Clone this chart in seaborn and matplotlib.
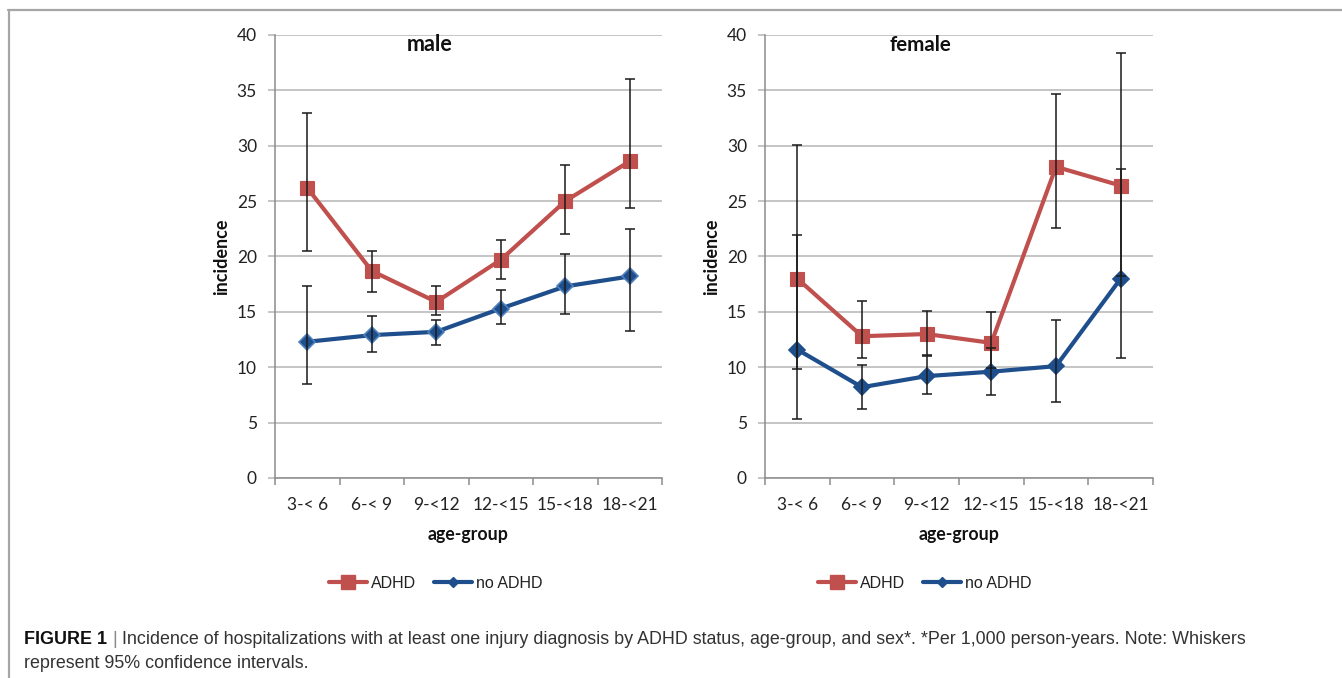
import matplotlib
matplotlib.use("Agg")
import matplotlib.pyplot as plt
from matplotlib.lines import Line2D
import seaborn as sns
import pandas as pd
import numpy as np

# ---------------- data ----------------
age_groups = ["3-< 6", "6-< 9", "9-<12", "12-<15", "15-<18", "18-<21"]
y_ticks = [0, 5, 10, 15, 20, 25, 30, 35, 40]

male_adhd = [26.2, 18.7, 15.9, 19.7, 25.0, 28.6]
male_adhd_lo = [20.5, 16.8, 14.7, 18.0, 22.0, 24.4]
male_adhd_hi = [33.0, 20.5, 17.3, 21.5, 28.3, 36.0]
male_no = [12.3, 12.9, 13.2, 15.3, 17.3, 18.2]
male_no_lo = [8.5, 11.4, 12.0, 13.9, 14.8, 13.3]
male_no_hi = [17.3, 14.6, 14.3, 17.0, 20.2, 22.5]

female_adhd = [18.0, 12.8, 13.0, 12.2, 28.1, 26.4]
female_adhd_lo = [9.8, 10.8, 11.1, 9.9, 22.6, 18.2]
female_adhd_hi = [30.1, 16.0, 15.1, 15.0, 34.7, 38.4]
female_no = [11.6, 8.2, 9.2, 9.6, 10.1, 18.0]
female_no_lo = [5.3, 6.2, 7.6, 7.5, 6.9, 10.8]
female_no_hi = [21.9, 10.2, 11.0, 11.7, 14.3, 27.9]

panel_titles = ["male", "female"]
series_labels = ["ADHD", "no ADHD"]
caption_bold = "FIGURE 1"
caption_rest = ("Incidence of hospitalizations with at least one injury diagnosis by ADHD status, "
                "age-group, and sex*. *Per 1,000 person-years. Note: Whiskers")
caption_line2 = "represent 95% confidence intervals."

# ---------------- style ----------------
sns.set_theme(style="white")
plt.rcParams["font.family"] = ["Lato", "DejaVu Sans"]

RED = "#C0504D"
BLUE = "#1F4E8C"
BLUE_EDGE_M = "#4F81BD"
GRID = "#b5b5b5"
AXC = "#8c8c8c"

W, H = 1342, 678
fig = plt.figure(figsize=(W / 100, H / 100), dpi=100)

def px_box(left, top, right, bottom):
    return [left / W, 1 - bottom / H, (right - left) / W, (bottom - top) / H]

axes = [fig.add_axes(px_box(275, 35, 662, 478)),
        fig.add_axes(px_box(765, 35, 1153, 478))]

panels = [
    (male_adhd, male_adhd_lo, male_adhd_hi, male_no, male_no_lo, male_no_hi, BLUE_EDGE_M),
    (female_adhd, female_adhd_lo, female_adhd_hi, female_no, female_no_lo, female_no_hi, BLUE),
]

for ax, title, (a, alo, ahi, n, nlo, nhi, bedge) in zip(axes, panel_titles, panels):
    df_a = pd.DataFrame({"age": age_groups, "val": a})
    df_n = pd.DataFrame({"age": age_groups, "val": n})
    sns.lineplot(data=df_n, x="age", y="val", ax=ax, color=BLUE, lw=3.0,
                 marker="D", markersize=8, markeredgecolor=bedge, markeredgewidth=1.2,
                 markerfacecolor=BLUE, sort=False, zorder=3)
    sns.lineplot(data=df_a, x="age", y="val", ax=ax, color=RED, lw=3.0,
                 marker="s", markersize=10.5, markeredgecolor=RED, markeredgewidth=0.8,
                 markerfacecolor=RED, sort=False, zorder=4)
    xs = np.arange(len(age_groups))
    for vals, lo, hi in [(n, nlo, nhi), (a, alo, ahi)]:
        vals = np.array(vals); lo = np.array(lo); hi = np.array(hi)
        ax.errorbar(xs, vals, yerr=[vals - lo, hi - vals], fmt="none",
                    ecolor="#1a1a1a", elinewidth=1.1, capsize=3.8, capthick=1.1, zorder=6)

    ax.set_xlim(-0.5, len(age_groups) - 0.5)
    ax.set_ylim(0, 40)
    ax.set_yticks(y_ticks)
    ax.set_xticks(xs)
    ax.set_xticklabels(age_groups)
    ax.set_xticks(np.arange(-0.5, len(age_groups)), minor=True)
    ax.yaxis.grid(True, color=GRID, lw=1.1)
    ax.xaxis.grid(False)
    ax.set_axisbelow(True)
    for s in ["top", "right"]:
        ax.spines[s].set_visible(False)
    for s in ["left", "bottom"]:
        ax.spines[s].set_color(AXC)
        ax.spines[s].set_linewidth(1.1)
    ax.tick_params(axis="y", which="major", length=5, width=1.1, color=GRID,
                   direction="out", left=True, pad=8, labelsize=12.5, labelcolor="#222222")
    ax.tick_params(axis="x", which="major", length=0, pad=14, labelsize=12.5,
                   labelcolor="#222222")
    ax.tick_params(axis="x", which="minor", length=5, width=1.1, color=AXC,
                   direction="out", bottom=True)
    ax.set_ylabel("incidence", fontsize=13, fontweight="bold", color="#111111", labelpad=5)
    ax.set_xlabel("age-group", fontsize=12.8, fontweight="bold", color="#111111", labelpad=9)
    ax.text(0.40, 0.978, title, transform=ax.transAxes, ha="center", va="center",
            fontsize=15.5 if title == "male" else 14.8, fontweight="bold", color="#111111")

# ---------------- legends ----------------
handles = [
    Line2D([0], [0], color=RED, lw=3.0, marker="s", markersize=10.5,
           markerfacecolor=RED, markeredgecolor=RED),
    Line2D([0], [0], color=BLUE, lw=3.0, marker="D", markersize=5.5,
           markerfacecolor=BLUE, markeredgecolor=BLUE),
]
for cx in [436 / W, 925 / W]:
    fig.legend(handles, series_labels, loc="center", bbox_to_anchor=(cx, 1 - 583 / H),
               ncol=2, frameon=False, prop={"family": ["Liberation Sans", "DejaVu Sans"],
                                            "size": 11.5},
               handlelength=2.4, handletextpad=0.25, columnspacing=1.1,
               labelcolor="#222222")

# ---------------- frame ----------------
fig.add_artist(Line2D([8 / W, 1.0], [1 - 10 / H, 1 - 10 / H], color="#a6a6a6", lw=1.6))
fig.add_artist(Line2D([9 / W, 9 / W], [0, 1 - 10 / H], color="#a6a6a6", lw=1.6))

# ---------------- caption ----------------
cap_font = ["Liberation Sans", "DejaVu Sans"]
CS = 12.9
y1 = 1 - 639 / H
y2 = 1 - 664 / H
t0 = fig.text(24 / W, y1, caption_bold, fontsize=CS, fontweight="bold",
              family=cap_font, color="#111111", va="center")
fig.canvas.draw()
r = fig.canvas.get_renderer()
bb = t0.get_window_extent(r)
t1 = fig.text(bb.x1 / W + 5 / W, y1, "|", fontsize=CS, family=cap_font,
              color="#8a8a8a", va="center")
bb1 = t1.get_window_extent(r)
fig.text(bb1.x1 / W + 5 / W, y1, caption_rest, fontsize=CS, family=cap_font,
         color="#333333", va="center")
fig.text(24 / W, y2, caption_line2, fontsize=CS, family=cap_font,
         color="#333333", va="center")

fig.savefig("out.png", dpi=100)
